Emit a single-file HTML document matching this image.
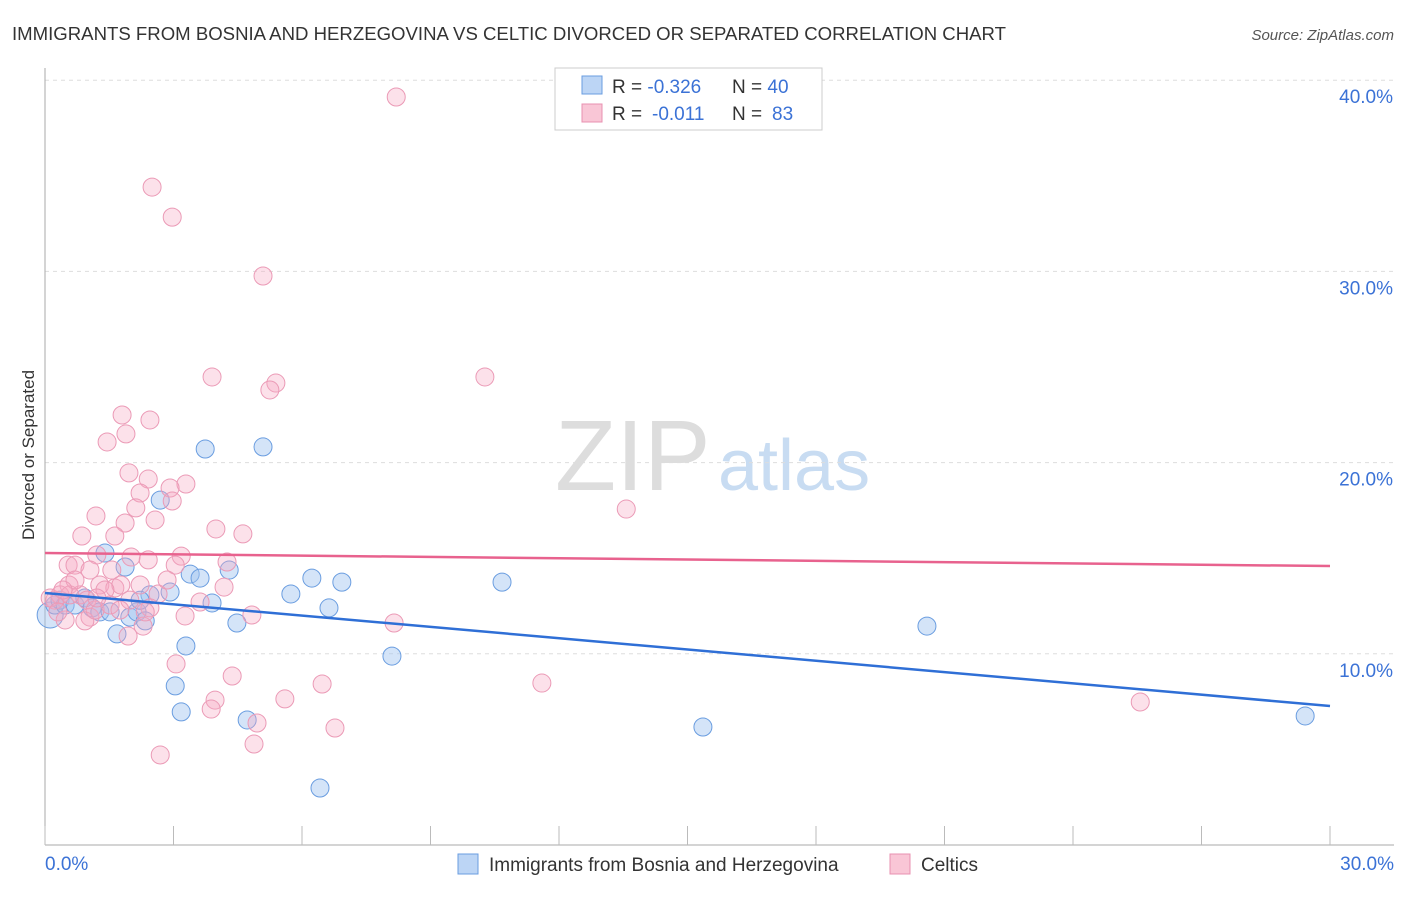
<!DOCTYPE html>
<html><head><meta charset="utf-8"><style>
body{margin:0;background:#fff;font-family:"Liberation Sans",sans-serif}
svg text{font-family:"Liberation Sans",sans-serif}
</style></head><body>
<svg id="c" width="1406" height="892">
<text x="12" y="40" font-size="18" fill="#333" textLength="994" lengthAdjust="spacingAndGlyphs">IMMIGRANTS FROM BOSNIA AND HERZEGOVINA VS CELTIC DIVORCED OR SEPARATED CORRELATION CHART</text>
<text x="1394" y="40" font-size="15" fill="#555" font-style="italic" text-anchor="end">Source: ZipAtlas.com</text>
<text x="555" y="490" font-size="100" fill="#ddd" font-family="Liberation Serif">ZIP</text>
<text x="718" y="490" font-size="72" fill="#c8dcf2">atlas</text>
<text transform="translate(34,455) rotate(-90)" font-size="17" fill="#333" text-anchor="middle">Divorced or Separated</text>
<g id="grid"></g><g id="axes"></g><g id="pts"></g><g id="lines"></g>
<g>
<rect x="555" y="68" width="267" height="62" fill="#fff" stroke="#ccc"/>
<rect x="582" y="76" width="20" height="18" fill="#bcd5f5" stroke="#6a9de0"/>
<rect x="582" y="104" width="20" height="18" fill="#f9c6d6" stroke="#e890b0"/>
<text x="612" y="93" font-size="19" fill="#333">R = <tspan fill="#3b72d6">-0.326</tspan><tspan x="732">N = </tspan><tspan fill="#3b72d6">40</tspan></text>
<text x="612" y="120" font-size="19" fill="#333">R = <tspan x="652" fill="#3b72d6">-0.011</tspan><tspan x="732">N = </tspan><tspan x="772" fill="#3b72d6">83</tspan></text>
</g>
<g>
<rect x="458" y="854" width="20" height="20" fill="#bcd5f5" stroke="#6a9de0"/>
<text x="489" y="871" font-size="19" fill="#333">Immigrants from Bosnia and Herzegovina</text>
<rect x="890" y="854" width="20" height="20" fill="#f9c6d6" stroke="#e890b0"/>
<text x="921" y="871" font-size="19" fill="#333">Celtics</text>
</g>
</svg>
<script>
const yTicks=[10,20,30,40];
const yTickLabels=["10.0%","20.0%","30.0%","40.0%"];
const xTickLabels=["0.0%","30.0%"];
const blueX=[0.12,0.23,0.35,0.47,0.70,0.93,1.10,1.28,1.40,1.52,1.68,1.87,1.98,2.15,2.34,2.45,2.69,2.92,3.04,3.18,3.29,3.39,3.62,3.74,3.90,4.30,4.48,4.72,5.09,5.74,6.23,6.63,6.93,8.10,10.67,15.36,20.59,29.42,6.42,2.22];
const blueY=[12.03,12.55,12.81,12.55,12.55,12.92,12.40,12.19,15.27,12.19,11.04,14.54,11.92,12.19,11.72,13.08,18.04,13.23,8.32,6.96,10.41,14.17,13.96,20.71,12.66,14.38,11.61,6.54,20.82,13.13,13.96,12.40,13.75,9.88,13.75,6.17,11.45,6.75,2.98,12.8];
const pinkX=[8.20,2.50,2.97,5.09,3.90,10.27,5.39,5.25,1.80,2.45,1.89,1.45,13.57,1.96,2.41,2.22,3.29,2.92,2.97,2.12,2.57,1.87,1.19,3.99,4.62,1.63,0.86,1.21,2.01,3.18,0.54,0.70,1.05,3.04,4.25,0.56,1.28,1.63,1.77,2.22,2.64,4.18,3.62,0.82,0.98,1.98,2.45,3.27,2.29,1.05,0.93,1.94,4.83,8.15,3.06,4.37,6.47,11.60,3.97,3.88,5.60,4.95,6.77,4.88,2.69,25.57,0.23,0.35,0.12,0.58,0.47,0.70,1.17,1.40,1.52,2.34,0.30,1.56,1.21,0.42,2.41,2.85,1.75];
const pinkY=[39.12,34.41,32.84,29.76,24.48,24.48,24.16,23.80,22.49,22.23,21.50,21.08,17.57,19.46,19.14,18.41,18.88,18.67,17.99,17.63,17.00,16.84,17.21,16.53,16.27,16.16,16.16,15.17,15.06,15.11,14.64,14.64,14.38,14.64,14.80,13.60,13.60,13.44,13.60,13.60,13.13,13.49,12.71,13.08,12.81,12.81,12.40,11.98,11.45,11.92,11.72,10.93,12.03,11.61,9.47,8.84,8.42,8.47,7.58,7.11,7.64,6.38,6.12,5.28,4.71,7.48,12.81,13.08,12.92,13.08,11.77,13.86,12.29,13.34,12.55,12.19,12.19,14.38,12.92,13.34,14.91,13.86,12.29];
const blueTrend=[13.18,7.27];
const pinkTrend=[15.27,14.59];
const NS="http://www.w3.org/2000/svg";
const X=v=>45+v/30*1285, Y=v=>845-v*19.12;
function mk(t,a,p){const e=document.createElementNS(NS,t);for(const k in a)e.setAttribute(k,a[k]);p.appendChild(e);return e;}
const grid=document.getElementById('grid'),axes=document.getElementById('axes'),pts=document.getElementById('pts'),lines=document.getElementById('lines');
yTicks.forEach((t,i)=>{
 const l=mk('line',{x1:45,x2:1394,y1:Y(t),y2:Y(t),stroke:'#ddd','stroke-dasharray':'4,4'},grid);
 
 
 const tx=mk('text',{x:1393,y:Y(t)+23,'font-size':19,fill:'#3b72d6','text-anchor':'end'},axes);
 tx.textContent=yTickLabels[i];
 
 
});
const al=mk('line',{x1:45,x2:45,y1:68,y2:845,stroke:'#aaa'},axes);


const bl=mk('line',{x1:45,x2:1394,y1:845,y2:845,stroke:'#aaa'},axes);


for(let i=0;i<=10;i++){
 const tk=mk('line',{x1:X(i*3),x2:X(i*3),y1:826,y2:845,stroke:'#bbb'},axes);
 
 
}
[[0,'start',45],[30,'end',1394]].forEach((d,i)=>{
 const tx=mk('text',{x:d[2],y:870,'font-size':19,fill:'#3b72d6','text-anchor':d[1]},axes);
 tx.textContent=xTickLabels[i];
 
 
});
blueX.forEach((x,i)=>{
 const c=mk('circle',{cx:X(x),cy:Y(blueY[i]),r:i==0?13:9,fill:'rgba(160,196,240,0.45)',stroke:'#6a9de0','stroke-width':1},pts);
 
 
});
pinkX.forEach((x,i)=>{
 const c=mk('circle',{cx:X(x),cy:Y(pinkY[i]),r:9,fill:'rgba(245,170,195,0.35)',stroke:'#eb9ab6','stroke-width':1},pts);
 
 
});
const t1=mk('line',{x1:X(0),x2:X(30),y1:Y(pinkTrend[0]),y2:Y(pinkTrend[1]),stroke:'#e8628e','stroke-width':2.5},lines);


const t2=mk('line',{x1:X(0),x2:X(30),y1:Y(blueTrend[0]),y2:Y(blueTrend[1]),stroke:'#2f6fd6','stroke-width':2.5},lines);


</script>
</body></html>
